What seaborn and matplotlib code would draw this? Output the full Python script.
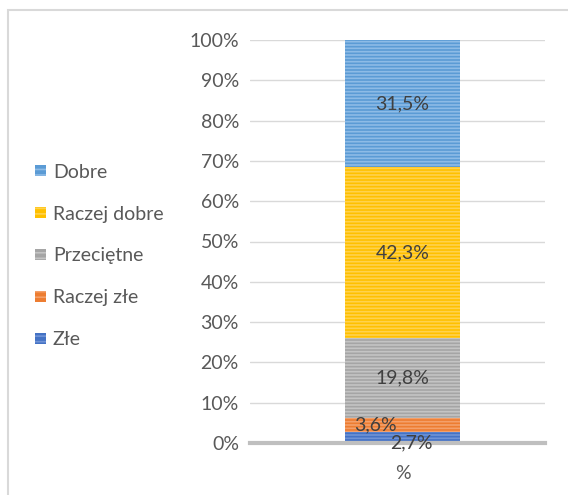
import matplotlib
matplotlib.use("Agg")
import matplotlib.pyplot as plt
import seaborn as sns
import numpy as np
import pandas as pd
from matplotlib.patches import Patch, Rectangle

categories = ["Złe", "Raczej złe", "Przeciętne", "Raczej dobre", "Dobre"]
values = [2.7, 3.6, 19.8, 42.3, 31.5]
labels = ["2,7%", "3,6%", "19,8%", "42,3%", "31,5%"]
colors = ["#4472C4", "#ED7D31", "#A5A5A5", "#FFC000", "#5B9BD5"]
hatch_colors = ["#6F93D6", "#F4A06A", "#C4C4C4", "#FFD24D", "#8DBBE6"]
xcat = ["%"]
yticks = list(range(0, 101, 10))

sns.set_theme(style="white")
plt.rcParams["font.family"] = ["Lato", "DejaVu Sans"]
plt.rcParams["hatch.linewidth"] = 1.2

fig = plt.figure(figsize=(5.68, 4.95), dpi=100)
ax = fig.add_axes([250/568, 52/495, 295/568, 403/495])

cum = np.cumsum(values)
# draw largest cumulative first, smaller on top
for i in range(len(values) - 1, -1, -1):
    df = pd.DataFrame({"x": xcat, "y": [cum[i]]})
    sns.barplot(data=df, x="x", y="y", ax=ax, color=colors[i], width=0.39,
                saturation=1, linewidth=0, edgecolor=hatch_colors[i],
                hatch="-----", zorder=2)

ax.set_ylim(0, 100)
ax.set_xlim(-0.517, 0.483)
ax.set_yticks(yticks)
ax.set_yticklabels([f"{t}%" for t in yticks])
ax.grid(axis="y", color="#D9D9D9", linewidth=1, zorder=0)
ax.set_axisbelow(True)
for s in ["top", "right", "left"]:
    ax.spines[s].set_visible(False)
ax.spines["bottom"].set_color("#BFBFBF")
ax.spines["bottom"].set_linewidth(3)
ax.spines["bottom"].set_zorder(5)
ax.tick_params(axis="y", length=0, labelsize=14, labelcolor="#595959", pad=8)
ax.tick_params(axis="x", length=0, labelsize=14, labelcolor="#595959", pad=16)
ax.set_xlabel("")
ax.set_ylabel("")

# data labels
starts = np.concatenate([[0], cum[:-1]])
for i, (v, lab) in enumerate(zip(values, labels)):
    mid = starts[i] + v / 2
    xpos = 0
    ypos = mid
    if i == 0:
        xpos, ypos = 0.03, 0.0
    elif i == 1:
        xpos, ypos = -0.093, starts[i] + v / 2
    ax.text(xpos, ypos, lab, ha="center", va="center", fontsize=14,
            color="#404040", zorder=6)

handles = [Patch(facecolor=colors[i], edgecolor=hatch_colors[i], hatch="---",
                 linewidth=0, label=categories[i]) for i in range(len(values) - 1, -1, -1)]
leg = fig.legend(handles=handles, loc="center left", bbox_to_anchor=(17/568, 1 - 256/495),
                 frameon=False, fontsize=14, labelcolor="#595959",
                 handlelength=0.6, handleheight=0.5, handletextpad=0.35,
                 labelspacing=1.28)

fig.patches.append(Rectangle((8/568, -0.1), 1.2, 1 - 10/495 + 0.1, transform=fig.transFigure,
                             fill=False, edgecolor="#D9D9D9", linewidth=1.5, zorder=0))

fig.savefig("out.png", dpi=100)
